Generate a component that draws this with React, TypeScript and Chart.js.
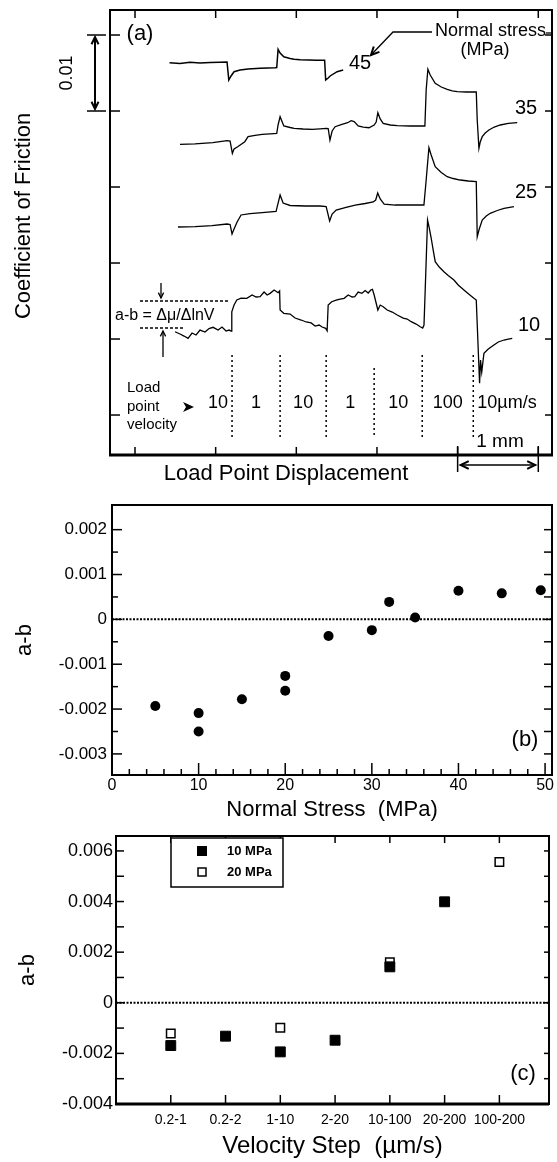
import React, { useEffect, useRef } from 'react';
import { Chart, registerables } from 'chart.js';

Chart.register(...registerables);

const FONT = '"Liberation Sans", Arial, Helvetica, sans-serif';
Chart.defaults.font.family = FONT;
Chart.defaults.color = '#000';

// ---------------- Panel (a): friction traces ----------------
// x: load point displacement (mm), y: friction in units of 0.01
const A_X_RANGE = [-0.31, 5.17];
const A_Y_RANGE = [-0.526, 5.329];
const A_X_TICKS = [0, 1, 2, 3, 4, 5];
const A_Y_TICKS = [0, 1, 2, 3, 4, 5];

const TRACE_45_X = [0.428, 0.558, 0.682, 0.806, 0.931, 1.055, 1.141, 1.163, 1.191, 1.228, 1.303, 1.402, 1.551, 1.737, 1.757, 1.774, 1.799, 1.845, 1.923, 1.973, 2.047, 2.153, 2.246, 2.351, 2.364, 2.395, 2.419, 2.506, 2.581];
const TRACE_45_Y = [4.636, 4.626, 4.641, 4.633, 4.638, 4.642, 4.645, 4.408, 4.461, 4.517, 4.539, 4.553, 4.562, 4.570, 4.572, 4.812, 4.763, 4.714, 4.691, 4.680, 4.675, 4.671, 4.668, 4.667, 4.408, 4.434, 4.461, 4.517, 4.539];

const TRACE_35_X = [0.558, 0.744, 0.965, 1.141, 1.179, 1.207, 1.228, 1.273, 1.361, 1.402, 1.489, 1.576, 1.675, 1.757, 1.774, 1.799, 1.845, 1.923, 1.973, 2.084, 2.196, 2.295, 2.370, 2.395, 2.417, 2.444, 2.481, 2.556, 2.636, 2.680, 2.717, 2.767, 2.829, 2.901, 2.965, 2.990, 3.011, 3.040, 3.077, 3.164, 3.251, 3.412, 3.561, 3.594, 3.610, 3.631, 3.660, 3.722, 3.797, 3.871, 3.933, 3.995, 4.107, 4.231, 4.243, 4.264, 4.280, 4.305, 4.342, 4.388, 4.454, 4.529, 4.628, 4.739];
const TRACE_35_Y = [3.562, 3.568, 3.583, 3.609, 3.605, 3.443, 3.500, 3.530, 3.596, 3.662, 3.678, 3.693, 3.700, 3.707, 3.816, 3.925, 3.803, 3.783, 3.772, 3.763, 3.759, 3.766, 3.772, 3.770, 3.618, 3.737, 3.793, 3.822, 3.846, 3.872, 3.862, 3.803, 3.789, 3.780, 3.816, 3.855, 3.978, 3.895, 3.838, 3.816, 3.807, 3.803, 3.803, 3.803, 4.276, 4.549, 4.474, 4.364, 4.316, 4.286, 4.266, 4.254, 4.250, 4.250, 3.882, 3.509, 3.592, 3.662, 3.711, 3.750, 3.789, 3.816, 3.836, 3.846];

const TRACE_25_X = [0.533, 0.744, 0.955, 1.141, 1.179, 1.203, 1.228, 1.266, 1.315, 1.427, 1.576, 1.749, 1.774, 1.799, 1.836, 1.923, 2.109, 2.295, 2.370, 2.413, 2.444, 2.494, 2.605, 2.730, 2.854, 2.953, 2.984, 3.009, 3.040, 3.089, 3.226, 3.412, 3.582, 3.610, 3.644, 3.672, 3.722, 3.797, 3.871, 3.945, 4.032, 4.132, 4.231, 4.243, 4.268, 4.305, 4.355, 4.404, 4.491, 4.575, 4.698];
const TRACE_25_Y = [2.474, 2.480, 2.493, 2.513, 2.507, 2.382, 2.447, 2.539, 2.632, 2.651, 2.664, 2.678, 2.789, 2.895, 2.789, 2.757, 2.750, 2.750, 2.743, 2.553, 2.645, 2.697, 2.730, 2.763, 2.783, 2.803, 2.829, 2.921, 2.842, 2.776, 2.763, 2.763, 2.763, 3.092, 3.517, 3.421, 3.267, 3.191, 3.136, 3.112, 3.092, 3.079, 3.070, 2.346, 2.447, 2.566, 2.618, 2.654, 2.691, 2.720, 2.741];

const TRACE_10_X = [0.496, 0.558, 0.608, 0.658, 0.707, 0.757, 0.806, 0.868, 0.918, 0.968, 1.030, 1.079, 1.129, 1.166, 1.191, 1.200, 1.228, 1.262, 1.315, 1.386, 1.452, 1.501, 1.551, 1.600, 1.638, 1.675, 1.725, 1.774, 1.793, 1.799, 1.845, 1.923, 1.985, 2.060, 2.122, 2.184, 2.233, 2.283, 2.320, 2.364, 2.382, 2.395, 2.439, 2.494, 2.543, 2.593, 2.643, 2.692, 2.725, 2.767, 2.813, 2.854, 2.891, 2.923, 2.944, 2.965, 3.011, 3.040, 3.077, 3.127, 3.189, 3.251, 3.325, 3.375, 3.424, 3.486, 3.536, 3.567, 3.583, 3.598, 3.627, 3.648, 3.672, 3.697, 3.722, 3.772, 3.830, 3.883, 3.954, 4.007, 4.078, 4.144, 4.202, 4.231, 4.272, 4.284, 4.299, 4.326, 4.380, 4.450, 4.504, 4.575, 4.628, 4.677];
const TRACE_10_Y = [1.096, 1.066, 1.039, 1.009, 1.079, 1.053, 1.118, 1.092, 1.138, 1.154, 1.118, 1.158, 1.105, 1.118, 1.105, 1.359, 1.447, 1.513, 1.539, 1.536, 1.579, 1.553, 1.557, 1.618, 1.579, 1.601, 1.645, 1.609, 1.632, 1.382, 1.338, 1.329, 1.276, 1.250, 1.224, 1.211, 1.171, 1.184, 1.158, 1.141, 1.109, 1.447, 1.491, 1.513, 1.526, 1.536, 1.579, 1.553, 1.557, 1.618, 1.601, 1.638, 1.605, 1.645, 1.654, 1.579, 1.382, 1.447, 1.425, 1.382, 1.355, 1.316, 1.276, 1.263, 1.228, 1.197, 1.162, 1.145, 1.184, 1.645, 2.566, 2.461, 2.329, 2.171, 2.017, 1.947, 1.886, 1.836, 1.776, 1.711, 1.645, 1.586, 1.536, 1.513, 0.417, 0.724, 0.566, 0.812, 0.868, 0.921, 0.961, 0.987, 1.000, 1.009];

const TRACE_LABELS = ['45', '35', '25', '10'];
const STEP_POSITIONS = [1.203, 1.799, 2.370, 2.965, 3.561, 4.194];
const VELOCITY_LABELS = ['10', '1', '10', '1', '10', '100', '10\u00b5m/s'];
const AB_LEVELS = [1.5, 1.145];

// ---------------- Panel (b): a-b vs normal stress ----------------
const B_X_RANGE = [0, 50.8];
const B_Y_RANGE = [-0.00347, 0.00255];
const B_STRESS = [5, 10, 10, 15, 20, 20, 25, 30, 32, 35, 40, 45, 49.5];
const B_AB = [-0.00193, -0.00209, -0.0025, -0.00178, -0.00126, -0.00159, -0.00037, -0.00024, 0.00039, 0.00004, 0.00064, 0.00058, 0.00065];
const B_X_TICKS = [0, 10, 20, 30, 40, 50];
const B_X_MINOR_TICKS = [2, 4, 6, 8, 12, 14, 16, 18, 22, 24, 26, 28, 32, 34, 36, 38, 42, 44, 46, 48];
const B_Y_TICKS = [-0.003, -0.002, -0.001, 0, 0.001, 0.002];
const B_Y_MINOR_TICKS = [-0.0025, -0.0015, -0.0005, 0.0005, 0.0015];

// ---------------- Panel (c): a-b vs velocity step ----------------
const C_X_RANGE = [-1, 6.906];
const C_Y_RANGE = [-0.004, 0.00659];
const C_STEPS = ['0.2-1', '0.2-2', '1-10', '2-20', '10-100', '20-200', '100-200'];
const C_10MPA: (number | null)[] = [-0.00169, -0.00132, -0.00194, -0.00148, 0.00142, 0.00399, null];
const C_20MPA: (number | null)[] = [-0.00121, null, -0.00099, null, 0.0016, null, 0.00556];
const C_Y_TICKS = [-0.004, -0.002, 0, 0.002, 0.004, 0.006];
const C_Y_MINOR_TICKS = [-0.003, -0.001, 0.001, 0.003, 0.005];
const C_SERIES_LABELS = ['10 MPa', '20 MPa'];

// ---------------- helpers ----------------
function line(ctx: any, x1: number, y1: number, x2: number, y2: number) {
  ctx.beginPath();
  ctx.moveTo(x1, y1);
  ctx.lineTo(x2, y2);
  ctx.stroke();
}
function arrowHead(ctx: any, x: number, y: number, ang: number, size = 7) {
  ctx.beginPath();
  ctx.moveTo(x - size * Math.cos(ang - 0.45), y - size * Math.sin(ang - 0.45));
  ctx.lineTo(x, y);
  ctx.lineTo(x - size * Math.cos(ang + 0.45), y - size * Math.sin(ang + 0.45));
  ctx.stroke();
}
function text(ctx: any, s: string, x: number, y: number, size: number, align = 'center', weight = 'normal') {
  ctx.font = `${weight} ${size}px ${FONT}`;
  ctx.textAlign = align;
  ctx.textBaseline = 'middle';
  ctx.fillText(s, x, y);
}
const fmtAB = (v: any) => (Math.abs(Number(v)) < 1e-12 ? '0' : Number(v).toFixed(3));
const zip = (xs: number[], ys: number[]) => xs.map((x, i) => ({ x, y: ys[i] }));
const byIndex = (arr: (number | null)[]) => arr.flatMap((v, i) => (v === null ? [] : [{ x: i, y: v }]));

// ---------------- plugins ----------------
const panelAPlugin = {
  id: 'panelA',
  afterDraw(chart: any) {
    const { ctx, chartArea: ca } = chart;
    const xs = chart.scales.x;
    const ys = chart.scales.y;
    ctx.save();
    ctx.strokeStyle = '#000';
    ctx.fillStyle = '#000';
    // frame
    ctx.lineWidth = 2;
    ctx.strokeRect(ca.left, ca.top, ca.right - ca.left, ca.bottom - ca.top);
    ctx.lineWidth = 3;
    line(ctx, ca.left - 1, ca.bottom, ca.right + 1, ca.bottom);
    ctx.lineWidth = 1.5;
    for (const v of A_X_TICKS) {
      const x = xs.getPixelForValue(v);
      line(ctx, x, ca.top, x, ca.top + 8);
      line(ctx, x, ca.bottom, x, ca.bottom - 8);
    }
    for (const v of A_Y_TICKS) {
      const y = ys.getPixelForValue(v);
      line(ctx, ca.left, y, ca.left + 10, y);
      line(ctx, ca.right, y, ca.right - 7, y);
    }
    // 0.01 scale bar
    const yTop = ys.getPixelForValue(A_Y_TICKS[5]);
    const yBot = ys.getPixelForValue(A_Y_TICKS[4]);
    ctx.lineWidth = 1.5;
    line(ctx, ca.left - 23, yTop, ca.left - 4, yTop);
    line(ctx, ca.left - 23, yBot, ca.left - 4, yBot);
    const xb = ca.left - 15;
    ctx.lineWidth = 2;
    line(ctx, xb, yTop + 3, xb, yBot - 3);
    arrowHead(ctx, xb, yTop + 2, -Math.PI / 2, 8);
    arrowHead(ctx, xb, yBot - 2, Math.PI / 2, 8);
    ctx.save();
    ctx.translate(ca.left - 43, (yTop + yBot) / 2);
    ctx.rotate(-Math.PI / 2);
    text(ctx, '0.01', 0, 0, 18);
    ctx.restore();

    // axis titles
    ctx.save();
    ctx.translate(24, 216);
    ctx.rotate(-Math.PI / 2);
    text(ctx, 'Coefficient of Friction', 0, 0, 22);
    ctx.restore();
    text(ctx, 'Load Point Displacement', 286, 474, 22);

    // panel label and trace labels
    text(ctx, '(a)', ca.left + 30, ca.top + 24, 22);
    const labelPos = [[360, 63], [526, 108], [526, 192], [529, 325]];
    TRACE_LABELS.forEach((s, i) => text(ctx, s, labelPos[i][0], labelPos[i][1], 20));

    // Normal stress callout
    text(ctx, 'Normal stress', 435, 31, 18, 'left');
    text(ctx, '(MPa)', 485, 50, 18);
    ctx.lineWidth = 1.3;
    line(ctx, 546, 33, ca.right, 33);
    ctx.beginPath();
    ctx.moveTo(432, 32);
    ctx.lineTo(393, 32);
    ctx.lineTo(371, 55);
    ctx.stroke();
    ctx.lineWidth = 2;
    arrowHead(ctx, 371, 55, Math.atan2(23, -22), 9);

    // a-b marker
    const yUp = ys.getPixelForValue(AB_LEVELS[0]);
    const yLo = ys.getPixelForValue(AB_LEVELS[1]);
    ctx.lineWidth = 1.5;
    ctx.setLineDash([3, 2]);
    line(ctx, 140, yUp, 230, yUp);
    line(ctx, 140, yLo, 185, yLo);
    ctx.setLineDash([]);
    ctx.lineWidth = 1.3;
    line(ctx, 161, yUp - 18, 161, yUp - 3);
    arrowHead(ctx, 161, yUp - 3, Math.PI / 2, 6);
    line(ctx, 163, yLo + 29, 163, yLo + 3);
    arrowHead(ctx, 163, yLo + 3, -Math.PI / 2, 6);
    text(ctx, 'a-b = \u0394\u03bc/\u0394lnV', 115, (yUp + yLo) / 2 + 1, 16, 'left');

    // velocity steps
    text(ctx, 'Load', 127, 388, 15, 'left');
    text(ctx, 'point', 127, 407, 15, 'left');
    text(ctx, 'velocity', 127, 425, 15, 'left');
    ctx.beginPath();
    ctx.moveTo(183, 402);
    ctx.lineTo(194, 407);
    ctx.lineTo(183, 412);
    ctx.lineTo(186, 407);
    ctx.closePath();
    ctx.fill();
    const sp = STEP_POSITIONS.map((v) => xs.getPixelForValue(v));
    ctx.lineWidth = 1.5;
    ctx.setLineDash([2, 3]);
    sp.forEach((x, i) => line(ctx, x, i === 3 ? 368 : 355, x, 438));
    ctx.setLineDash([]);
    VELOCITY_LABELS.forEach((s, i) => {
      if (i === 0) text(ctx, s, sp[0] - 4, 403, 18, 'right');
      else if (i === VELOCITY_LABELS.length - 1) text(ctx, s, sp[sp.length - 1] + 4, 403, 18, 'left');
      else text(ctx, s, (sp[i - 1] + sp[i]) / 2, 403, 18);
    });

    // 1 mm scale
    const x4 = xs.getPixelForValue(A_X_TICKS[4]);
    const x5 = xs.getPixelForValue(A_X_TICKS[5]);
    text(ctx, '1 mm', (x4 + x5) / 2 + 2, 442, 19);
    ctx.lineWidth = 1.5;
    line(ctx, x4, 446, x4, 472);
    line(ctx, x5, 446, x5, 472);
    line(ctx, x4 + 3, 465, x5 - 3, 465);
    ctx.lineWidth = 2;
    arrowHead(ctx, x4 + 3, 465, Math.PI, 9);
    arrowHead(ctx, x5 - 3, 465, 0, 9);
    ctx.restore();
  },
};

const panelBPlugin = {
  id: 'panelB',
  afterDraw(chart: any) {
    const { ctx, chartArea: ca } = chart;
    const xs = chart.scales.x;
    const ys = chart.scales.y;
    ctx.save();
    ctx.strokeStyle = '#000';
    ctx.fillStyle = '#000';
    ctx.lineWidth = 2;
    ctx.strokeRect(ca.left, ca.top, ca.right - ca.left, ca.bottom - ca.top);
    ctx.lineWidth = 1.5;
    B_X_TICKS.forEach((v) => {
      const x = xs.getPixelForValue(v);
      line(ctx, x, ca.bottom, x, ca.bottom - 12);
    });
    B_X_MINOR_TICKS.forEach((v) => {
      const x = xs.getPixelForValue(v);
      line(ctx, x, ca.bottom, x, ca.bottom - 6);
    });
    B_Y_TICKS.forEach((v) => {
      const y = ys.getPixelForValue(v);
      line(ctx, ca.left, y, ca.left + 10, y);
      line(ctx, ca.right, y, ca.right - 8, y);
    });
    B_Y_MINOR_TICKS.forEach((v) => {
      const y = ys.getPixelForValue(v);
      line(ctx, ca.left, y, ca.left + 6, y);
      line(ctx, ca.right, y, ca.right - 8, y);
    });
    text(ctx, '(b)', ca.right - 27, ca.top + 235, 22);
    ctx.restore();
  },
};

const panelCPlugin = {
  id: 'panelC',
  afterDraw(chart: any) {
    const { ctx, chartArea: ca } = chart;
    const xs = chart.scales.x;
    const ys = chart.scales.y;
    ctx.save();
    ctx.strokeStyle = '#000';
    ctx.fillStyle = '#000';
    ctx.lineWidth = 2;
    ctx.strokeRect(ca.left, ca.top, ca.right - ca.left, ca.bottom - ca.top);
    ctx.lineWidth = 3;
    line(ctx, ca.left - 1, ca.bottom, ca.right, ca.bottom);
    ctx.lineWidth = 1.5;
    C_STEPS.forEach((_, i) => {
      const x = xs.getPixelForValue(i);
      line(ctx, x, ca.top, x, ca.top + 7);
      line(ctx, x, ca.bottom, x, ca.bottom - 9);
    });
    [...C_Y_TICKS, ...C_Y_MINOR_TICKS].forEach((v) => {
      const y = ys.getPixelForValue(v);
      line(ctx, ca.left, y, ca.left + 8, y);
      line(ctx, ca.right, y, ca.right - 5, y);
    });
    // legend
    const lx = ca.left + 55;
    const ly = ca.top + 2;
    ctx.fillStyle = '#fff';
    ctx.fillRect(lx, ly, 112, 49);
    ctx.lineWidth = 1.5;
    ctx.strokeRect(lx, ly, 112, 49);
    const ds = chart.data.datasets;
    [0, 1].forEach((k) => {
      const y = ly + 13 + k * 21;
      const side = k === 0 ? 9 : 8;
      ctx.fillStyle = ds[k].backgroundColor;
      ctx.fillRect(lx + 31 - side / 2, y - side / 2, side, side);
      ctx.strokeStyle = '#000';
      ctx.lineWidth = k === 0 ? 1 : 1.5;
      ctx.strokeRect(lx + 31 - side / 2, y - side / 2, side, side);
      ctx.fillStyle = '#000';
      text(ctx, ds[k].label, lx + 56, y, 13, 'left', 'bold');
    });
    text(ctx, '(c)', ca.right - 26, ca.top + 238, 22);
    ctx.restore();
  },
};

// ---------------- chart configs ----------------
function makeA(): any {
  const traces = [
    [TRACE_45_X, TRACE_45_Y],
    [TRACE_35_X, TRACE_35_Y],
    [TRACE_25_X, TRACE_25_Y],
    [TRACE_10_X, TRACE_10_Y],
  ];
  return {
    type: 'scatter',
    data: {
      datasets: traces.map(([xs, ys], i) => ({
        label: TRACE_LABELS[i] + ' MPa',
        data: zip(xs, ys),
        showLine: true,
        borderColor: '#000',
        borderWidth: i === 0 ? 1.5 : 1.3,
        pointRadius: 0,
        tension: 0,
      })),
    },
    options: {
      responsive: false,
      animation: false,
      events: [],
      layout: { padding: { left: 110, top: 10, right: 5, bottom: 40 } },
      plugins: { legend: { display: false }, tooltip: { enabled: false } },
      scales: {
        x: { type: 'linear', display: false, min: A_X_RANGE[0], max: A_X_RANGE[1] },
        y: { type: 'linear', display: false, min: A_Y_RANGE[0], max: A_Y_RANGE[1] },
      },
    },
    plugins: [panelAPlugin],
  };
}

function makeB(): any {
  return {
    type: 'scatter',
    data: {
      datasets: [
        {
          label: 'a-b',
          data: zip(B_STRESS, B_AB),
          pointRadius: 5,
          pointStyle: 'circle',
          backgroundColor: '#000',
          borderColor: '#000',
          borderWidth: 0,
        },
        {
          label: 'zero',
          data: [{ x: B_X_RANGE[0], y: 0 }, { x: B_X_RANGE[1], y: 0 }],
          showLine: true,
          borderColor: '#000',
          borderWidth: 2,
          borderDash: [2, 1.5],
          pointRadius: 0,
        },
      ],
    },
    options: {
      responsive: false,
      animation: false,
      events: [],
      layout: { padding: { left: 0, top: 10, right: 2, bottom: 0 } },
      plugins: { legend: { display: false }, tooltip: { enabled: false } },
      scales: {
        x: {
          type: 'linear',
          min: B_X_RANGE[0],
          max: B_X_RANGE[1],
          afterBuildTicks: (s: any) => { s.ticks = B_X_TICKS.map((v) => ({ value: v })); },
          afterFit: (s: any) => { s.height = 50; s.paddingLeft = 0; s.paddingRight = 0; },
          grid: { display: false, drawTicks: false },
          border: { display: false },
          ticks: { font: { size: 16 }, color: '#000', padding: 1, maxRotation: 0, autoSkip: false, callback: (v: any) => String(v) },
          title: { display: true, text: 'Normal Stress  (MPa)', font: { size: 22 }, color: '#000', padding: { top: 0, bottom: 2 } },
        },
        y: {
          type: 'linear',
          min: B_Y_RANGE[0],
          max: B_Y_RANGE[1],
          afterBuildTicks: (s: any) => { s.ticks = B_Y_TICKS.map((v) => ({ value: v })); },
          afterFit: (s: any) => { s.width = 112; s.paddingTop = 0; s.paddingBottom = 0; },
          grid: { display: false, drawTicks: false },
          border: { display: false },
          ticks: { font: { size: 17 }, color: '#000', padding: 5, autoSkip: false, callback: fmtAB },
          title: { display: true, text: 'a-b', font: { size: 22 }, color: '#000', padding: { top: 12, bottom: 0 } },
        },
      },
    },
    plugins: [panelBPlugin],
  };
}

function makeC(): any {
  return {
    type: 'scatter',
    data: {
      datasets: [
        {
          label: C_SERIES_LABELS[0],
          data: byIndex(C_10MPA),
          pointStyle: 'rect',
          pointRadius: 7,
          backgroundColor: '#000',
          borderColor: '#000',
          borderWidth: 1,
        },
        {
          label: C_SERIES_LABELS[1],
          data: byIndex(C_20MPA),
          pointStyle: 'rect',
          pointRadius: 6,
          backgroundColor: '#fff',
          borderColor: '#000',
          borderWidth: 1.5,
        },
        {
          label: 'zero',
          data: [{ x: C_X_RANGE[0], y: 0 }, { x: C_X_RANGE[1], y: 0 }],
          showLine: true,
          borderColor: '#000',
          borderWidth: 2,
          borderDash: [2, 1.5],
          pointRadius: 0,
        },
      ],
    },
    options: {
      responsive: false,
      animation: false,
      events: [],
      layout: { padding: { left: 0, top: 11, right: 1, bottom: 0 } },
      plugins: { legend: { display: false }, tooltip: { enabled: false } },
      scales: {
        x: {
          type: 'linear',
          min: C_X_RANGE[0],
          max: C_X_RANGE[1],
          afterBuildTicks: (s: any) => { s.ticks = C_STEPS.map((_, i) => ({ value: i })); },
          afterFit: (s: any) => { s.height = 58; s.paddingLeft = 0; s.paddingRight = 0; },
          grid: { display: false, drawTicks: false },
          border: { display: false },
          ticks: { font: { size: 14 }, color: '#000', padding: 8, maxRotation: 0, autoSkip: false, callback: (v: any) => C_STEPS[Math.round(Number(v))] ?? '' },
          title: { display: true, text: 'Velocity Step  (\u00b5m/s)', font: { size: 24 }, color: '#000', padding: { top: 0, bottom: 1 } },
        },
        y: {
          type: 'linear',
          min: C_Y_RANGE[0],
          max: C_Y_RANGE[1],
          afterBuildTicks: (s: any) => { s.ticks = C_Y_TICKS.map((v) => ({ value: v })); },
          afterFit: (s: any) => { s.width = 116; s.paddingTop = 0; s.paddingBottom = 0; },
          grid: { display: false, drawTicks: false },
          border: { display: false },
          ticks: { font: { size: 18 }, color: '#000', padding: 3, autoSkip: false, callback: fmtAB },
          title: { display: true, text: 'a-b', font: { size: 22 }, color: '#000', padding: { top: 15, bottom: 0 } },
        },
      },
    },
    plugins: [panelCPlugin],
  };
}

function ChartCanvas({ make, top, height }: { make: () => any; top: number; height: number }) {
  const ref = useRef<HTMLCanvasElement>(null);
  useEffect(() => {
    const chart = new Chart(ref.current as HTMLCanvasElement, make());
    return () => chart.destroy();
  }, []);
  return (
    <canvas
      ref={ref}
      width={557}
      height={height}
      style={{ position: 'absolute', left: 0, top, width: 557, height, display: 'block' }}
    />
  );
}

export default function App() {
  return (
    <div style={{ position: 'absolute', left: 0, top: 0, width: 557, height: 1162, background: '#fff', overflow: 'hidden' }}>
      <ChartCanvas make={makeA} top={0} height={495} />
      <ChartCanvas make={makeB} top={495} height={330} />
      <ChartCanvas make={makeC} top={825} height={337} />
    </div>
  );
}
